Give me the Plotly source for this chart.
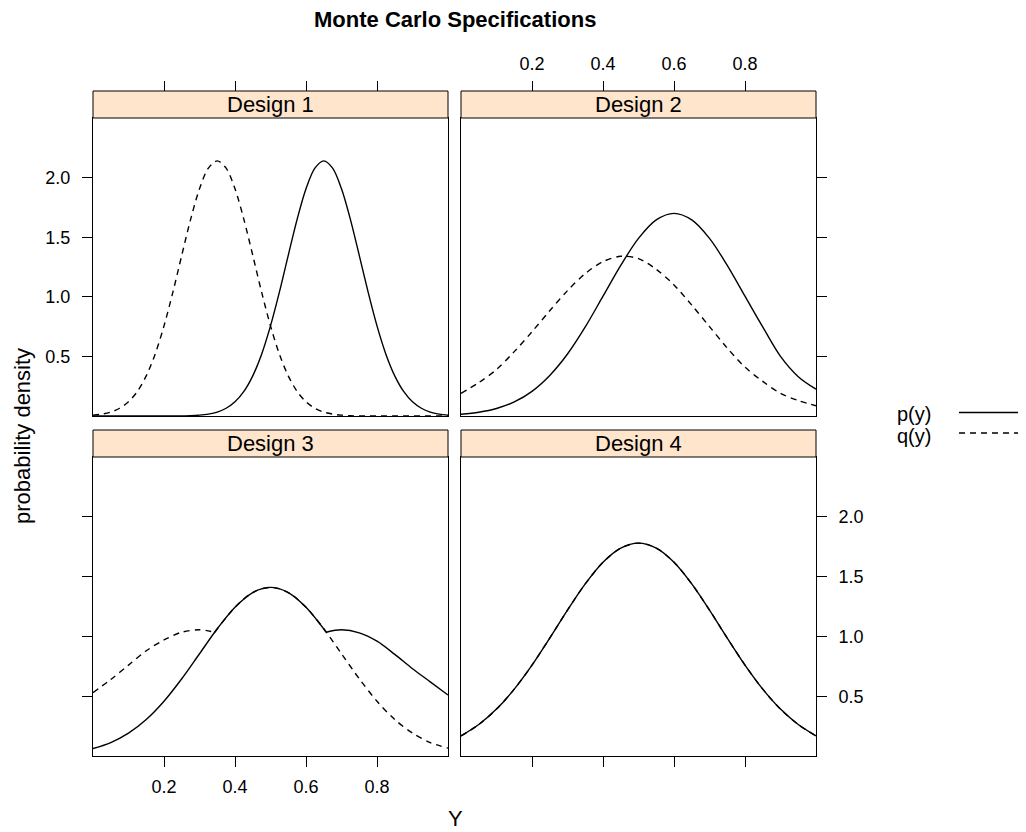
import plotly.graph_objects as go

# ---------------- data ----------------
x_grid = [0.00, 0.05, 0.10, 0.15, 0.20, 0.25, 0.30, 0.35, 0.40, 0.45, 0.50,
          0.55, 0.60, 0.65, 0.70, 0.75, 0.80, 0.85, 0.90, 0.95, 1.00]

x_fine = [0.000, 0.025, 0.050, 0.075, 0.100, 0.125, 0.150, 0.175, 0.200, 0.225,
          0.250, 0.275, 0.300, 0.325, 0.350, 0.375, 0.400, 0.425, 0.450, 0.475,
          0.500, 0.525, 0.550, 0.575, 0.600, 0.625, 0.650, 0.675, 0.700, 0.725,
          0.750, 0.775, 0.800, 0.825, 0.850, 0.875, 0.900, 0.925, 0.950, 0.975, 1.000]

# Design 1 (on the fine grid)
d1_p = [0.0, 0.0, 0.0, 0.0, 0.0, 0.0, 0.0, 0.0, 0.0, 0.0,
        0.001, 0.002, 0.007, 0.016, 0.033, 0.065, 0.119, 0.206, 0.337, 0.519,
        0.756, 1.039, 1.348, 1.650, 1.906, 2.079, 2.140, 2.079, 1.906, 1.650,
        1.348, 1.039, 0.756, 0.519, 0.337, 0.206, 0.119, 0.065, 0.033, 0.016, 0.007]
d1_q = [0.007, 0.016, 0.033, 0.065, 0.119, 0.206, 0.337, 0.519, 0.756, 1.039,
        1.348, 1.650, 1.906, 2.079, 2.140, 2.079, 1.906, 1.650, 1.348, 1.039,
        0.756, 0.519, 0.337, 0.206, 0.119, 0.065, 0.033, 0.016, 0.007, 0.002,
        0.001, 0.0, 0.0, 0.0, 0.0, 0.0, 0.0, 0.0, 0.0, 0.0, 0.0]

# Design 2
d2_p = [0.015, 0.032, 0.063, 0.118, 0.207, 0.34, 0.52, 0.747, 1.005, 1.264, 1.49,
        1.645, 1.70, 1.645, 1.49, 1.264, 1.005, 0.747, 0.50, 0.33, 0.225]
d2_q = [0.19, 0.28, 0.39, 0.54, 0.707, 0.883, 1.052, 1.195, 1.295, 1.34, 1.32,
        1.23, 1.10, 0.93, 0.75, 0.57, 0.41, 0.29, 0.19, 0.13, 0.086]

# Design 3 (two pieces each, joined at a kink)
d3_q_left_x = [0.00, 0.05, 0.10, 0.15, 0.20, 0.25, 0.30, 0.343]
d3_q_left_y = [0.53, 0.64, 0.76, 0.88, 0.97, 1.035, 1.055, 1.035]
d3_q_right_x = [0.343, 0.40, 0.45, 0.50, 0.55, 0.60, 0.65, 0.70, 0.75, 0.80, 0.85, 0.90, 0.95, 1.00]
d3_q_right_y = [1.035, 1.244, 1.367, 1.41, 1.367, 1.244, 1.064, 0.855, 0.646, 0.458, 0.305, 0.191, 0.112, 0.066]
d3_p_left_x = [0.00, 0.05, 0.10, 0.15, 0.20, 0.25, 0.30, 0.35, 0.40, 0.45, 0.50, 0.55, 0.60, 0.657]
d3_p_left_y = [0.062, 0.112, 0.191, 0.305, 0.458, 0.646, 0.855, 1.064, 1.244, 1.367, 1.41, 1.367, 1.244, 1.035]
d3_p_right_x = [0.657, 0.70, 0.75, 0.80, 0.85, 0.90, 0.95, 1.00]
d3_p_right_y = [1.035, 1.055, 1.03, 0.96, 0.85, 0.73, 0.62, 0.51]

# Design 4 (p and q coincide)
d4_p = [0.168, 0.263, 0.392, 0.559, 0.760, 0.986, 1.220, 1.439, 1.620, 1.738, 1.780,
        1.738, 1.620, 1.439, 1.220, 0.986, 0.760, 0.559, 0.392, 0.263, 0.168]
d4_q = [0.168, 0.263, 0.392, 0.559, 0.760, 0.986, 1.220, 1.439, 1.620, 1.738, 1.780,
        1.738, 1.620, 1.439, 1.220, 0.986, 0.760, 0.559, 0.392, 0.263, 0.168]

panel_titles = ["Design 1", "Design 2", "Design 3", "Design 4"]
x_ticks = [0.2, 0.4, 0.6, 0.8]
y_ticks = [0.5, 1.0, 1.5, 2.0]
legend_labels = ["p(y)", "q(y)"]

# ---------------- layout geometry (pixels in the 1026x832 window) ----------------
OFF = 8                      # page body margin
FW, FH = 1026 - OFF, 832 - OFF
FONT = "Liberation Sans, Arial, Helvetica, sans-serif"


def fx(p):
    return (p - OFF) / FW


def fy(p):
    return 1 - (p - OFF) / FH


col_px = [(93, 448), (461, 816)]
row_px = [(118, 416), (457, 756)]   # plot area (top, bottom)
strip_h = 27

SOLID = dict(color="black", width=1.4)
DASH = dict(color="black", width=1.4, dash="6px,5px")

fig = go.Figure()


def add(x, y, ax, line):
    fig.add_trace(go.Scatter(x=x, y=y, mode="lines", line=dict(shape="spline", smoothing=0.9, **line),
                             xaxis=ax[0], yaxis=ax[1], showlegend=False, hoverinfo="skip"))


add(x_fine, d1_q, ("x", "y"), DASH)
add(x_fine, d1_p, ("x", "y"), SOLID)
add(x_grid, d2_q, ("x2", "y2"), DASH)
add(x_grid, d2_p, ("x2", "y2"), SOLID)
add(d3_q_left_x, d3_q_left_y, ("x3", "y3"), DASH)
add(d3_q_right_x, d3_q_right_y, ("x3", "y3"), DASH)
add(d3_p_left_x, d3_p_left_y, ("x3", "y3"), SOLID)
add(d3_p_right_x, d3_p_right_y, ("x3", "y3"), SOLID)
add(x_grid, d4_q, ("x4", "y4"), DASH)
add(x_grid, d4_p, ("x4", "y4"), SOLID)

# dummy traces to make the "above-strip" axes render
fig.add_trace(go.Scatter(x=[], y=[], xaxis="x5", yaxis="y", showlegend=False, hoverinfo="skip"))
fig.add_trace(go.Scatter(x=[], y=[], xaxis="x6", yaxis="y2", showlegend=False, hoverinfo="skip"))

tickfont = dict(family=FONT, size=18, color="black")
common = dict(showgrid=False, zeroline=False, showline=True, mirror=True, linecolor="black",
              linewidth=1, tickcolor="black", tickwidth=1, ticklen=10, tickfont=tickfont)

layout = dict(width=FW, height=FH, margin=dict(l=0, r=0, t=0, b=0),
              plot_bgcolor="white", paper_bgcolor="white", font=dict(family=FONT, color="black"))

axes_spec = {
    # name: (col, row, xticks?, xlabels?, yside, yticks?, ylabels?)
    1: (0, 0, False, False, "left", True, True),
    2: (1, 0, False, False, "right", True, False),
    3: (0, 1, True, True, "left", True, False),
    4: (1, 1, True, False, "right", True, True),
}
for k, (c, r, xt, xl, ys, yt, yl) in axes_spec.items():
    xname = "xaxis" if k == 1 else f"xaxis{k}"
    yname = "yaxis" if k == 1 else f"yaxis{k}"
    xa = "x" if k == 1 else f"x{k}"
    ya = "y" if k == 1 else f"y{k}"
    layout[xname] = dict(common, domain=[fx(col_px[c][0]), fx(col_px[c][1])], anchor=ya,
                         range=[0, 1], tickvals=x_ticks, tickformat=".1f",
                         ticks="outside" if xt else "", showticklabels=xl, ticklabelstandoff=4)
    layout[yname] = dict(common, domain=[fy(row_px[r][1]), fy(row_px[r][0])], anchor=xa,
                         range=[0, 2.5], tickvals=y_ticks, tickformat=".1f", side=ys,
                         ticks="outside" if yt else "", showticklabels=yl, ticklabelstandoff=8)

# tick axes above the top strips
strip_top = row_px[0][0] - strip_h
for k, base, lab in [(5, "x", False), (6, "x2", True)]:
    layout[f"xaxis{k}"] = dict(overlaying=base, anchor="free", position=fy(strip_top), side="top",
                               range=[0, 1], tickvals=x_ticks, tickformat=".1f", ticks="outside",
                               ticklen=10, tickcolor="black", tickwidth=1, showline=False,
                               showgrid=False, zeroline=False, showticklabels=lab, tickfont=tickfont,
                               ticklabelstandoff=4)

shapes = []
annotations = []
for i, title in enumerate(panel_titles):
    c, r = i % 2, i // 2
    x0, x1 = col_px[c]
    top = row_px[r][0]
    shapes.append(dict(type="rect", xref="paper", yref="paper", x0=fx(x0), x1=fx(x1),
                       y0=fy(top), y1=fy(top - strip_h), fillcolor="#FFE5CC",
                       line=dict(color="black", width=1), layer="above"))
    annotations.append(dict(text=title, xref="paper", yref="paper", x=fx((x0 + x1) / 2),
                            y=fy(top - strip_h / 2), xanchor="center", yanchor="middle",
                            showarrow=False, font=dict(family=FONT, size=22, color="black")))

# title and axis labels
annotations.append(dict(text="<b>Monte Carlo Specifications</b>", xref="paper", yref="paper",
                        x=fx(455), y=fy(20), xanchor="center", yanchor="middle", showarrow=False,
                        font=dict(family=FONT, size=22, color="black")))
annotations.append(dict(text="Y", xref="paper", yref="paper", x=fx(455), y=fy(818),
                        xanchor="center", yanchor="middle", showarrow=False,
                        font=dict(family=FONT, size=22, color="black")))
annotations.append(dict(text="probability density", xref="paper", yref="paper", x=fx(22), y=fy(436),
                        xanchor="center", yanchor="middle", textangle=-90, showarrow=False,
                        font=dict(family=FONT, size=22, color="black")))

# legend (key on the right)
leg_rows = [414, 436]
leg_line_y = [412.5, 433]
leg_styles = [dict(color="black", width=1.4), dict(color="black", width=1.4, dash="6px,5px")]
for lab, ty, ly, st in zip(legend_labels, leg_rows, leg_line_y, leg_styles):
    annotations.append(dict(text=lab, xref="paper", yref="paper", x=fx(914), y=fy(ty),
                            xanchor="center", yanchor="middle", showarrow=False,
                            font=dict(family=FONT, size=20, color="black")))
    shapes.append(dict(type="line", xref="paper", yref="paper", x0=fx(959), x1=fx(1022),
                       y0=fy(ly), y1=fy(ly), line=st))

layout["shapes"] = shapes
layout["annotations"] = annotations
fig.update_layout(**layout)
fig.write_html("out.html")
